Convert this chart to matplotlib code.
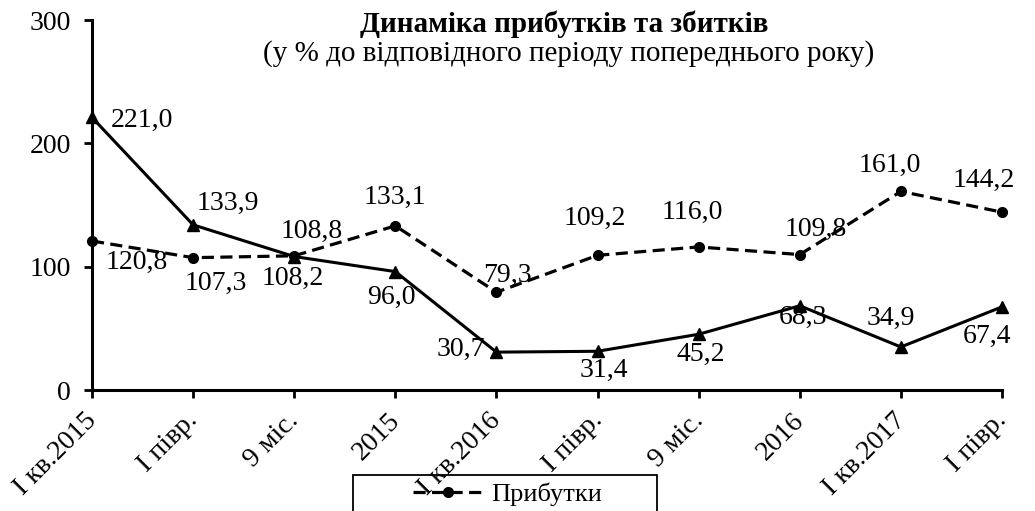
import matplotlib
matplotlib.use('Agg')
import matplotlib.pyplot as plt
from matplotlib import rcParams
from matplotlib.patches import Rectangle
from matplotlib.transforms import ScaledTranslation

rcParams['font.family'] = ['Liberation Serif', 'DejaVu Serif']
rcParams['font.size'] = 20

# data
periods = ['І кв.2015', 'І півр.', '9 міс.', '2015', 'І кв.2016',
           'І півр.', '9 міс.', '2016', 'І кв.2017', 'І півр.']
profits = [120.8, 107.3, 108.8, 133.1, 79.3, 109.2, 116.0, 109.8, 161.0, 144.2]
losses = [221.0, 133.9, 108.2, 96.0, 30.7, 31.4, 45.2, 68.3, 34.9, 67.4]

# label offsets in pixels
profit_off = [(45, -21), (23, -26), (17, 24), (0, 28), (11, 17),
              (-3, 37), (-6, 35), (16, 25), (-11, 26), (-18, 32)]
loss_off = [(50, -3), (35, 21), (-1, -22), (-4, -26), (-36, 3),
            (6, -19), (2, -20), (3, -12), (-10, 29), (-15, -30)]

fig = plt.figure(figsize=(10.35, 5.11), dpi=100)
ax = fig.add_axes([92/1035, 1-390/511, 910/1035, 370/511])

x = list(range(len(periods)))
ax.plot(x, profits, color='black', lw=2.3, ls=(0, (3.8, 2.0)), marker='o',
        markersize=7, label='Прибутки', clip_on=False, zorder=3)
ax.plot(x, losses, color='black', lw=2.2, marker='^', markersize=9,
        label='Збитки', clip_on=False, zorder=3)

for i in x:
    ax.annotate(f'{profits[i]:.1f}'.replace('.', ','), (i, profits[i]),
                xytext=profit_off[i], textcoords='offset pixels',
                ha='center', va='center', annotation_clip=False)
    ax.annotate(f'{losses[i]:.1f}'.replace('.', ','), (i, losses[i]),
                xytext=loss_off[i], textcoords='offset pixels',
                ha='center', va='center', annotation_clip=False)

ax.set_xlim(0, 9)
ax.set_ylim(0, 300)
ax.set_yticks([0, 100, 200, 300])
ax.set_xticks(x)
ax.set_xticklabels(periods, rotation=45, ha='right', rotation_mode='anchor')
ax.spines['top'].set_visible(False)
ax.spines['right'].set_visible(False)
ax.spines['left'].set_linewidth(2.2)
ax.spines['bottom'].set_linewidth(2.2)
ax.tick_params(width=2, length=6, direction='out')
ax.tick_params(axis='y', pad=9)
ax.tick_params(axis='x', pad=7)
# nudge rotated labels left so their ends sit under the ticks
shift = ScaledTranslation(-8/100, 0, fig.dpi_scale_trans)
for lab in ax.get_xticklabels():
    lab.set_transform(lab.get_transform() + shift)

fig.text(564/1035, 1-24/511, 'Динаміка прибутків та збитків',
         ha='center', va='center', fontweight='bold', fontsize=21)
fig.text(569/1035, 1-54/511, '(у % до відповідного періоду попереднього року)',
         ha='center', va='center', fontsize=21)

# legend box, lower part falls outside the figure as in the original
fig.patches.append(Rectangle((353/1035, -0.05), 304/1035, 0.05 + 36/511,
                             transform=fig.transFigure, fill=False,
                             edgecolor='black', lw=1.3))
leg = ax.legend(loc='upper left', bbox_to_anchor=(408/1035, 1-477/511),
                bbox_transform=fig.transFigure, frameon=False,
                borderaxespad=0, handlelength=2.65, handletextpad=0.3,
                borderpad=0.2, labelspacing=1.6, fontsize=19)

fig.savefig('out.png', dpi=100)
